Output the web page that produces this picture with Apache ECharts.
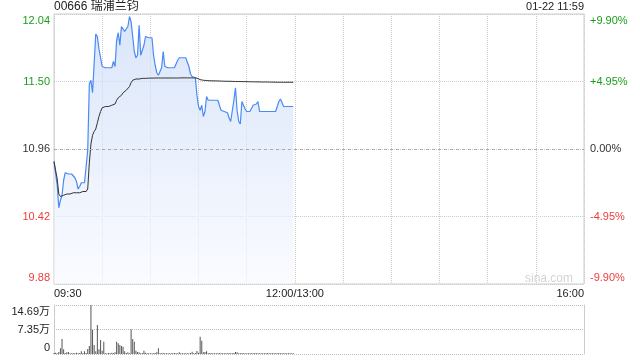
<!DOCTYPE html>
<html>
<head>
<meta charset="utf-8">
<script src="https://cdn.jsdelivr.net/npm/echarts@6/dist/echarts.min.js"></script>
<style>html,body{margin:0;padding:0;background:#fff;}#c{width:640px;height:360px;}</style>
</head>
<body>
<div id="c"></div>
<script>
const stockTitle = '00666 瑞浦兰钧';
const stampText = '01-22 11:59';
const prevClose = 10.96;
const timeTickValues = [0, 150, 330];
const timeLabels = ['09:30', '12:00/13:00', '16:00'];
const priceLabels = ['9.88', '10.42', '10.96', '11.50', '12.04'];
const pctLabels = ['-9.90%', '-4.95%', '0.00%', '+4.95%', '+9.90%'];
const volLabels = ['0', '7.35万', '14.69万'];
const volMax = 146900;

const priceValues = [
10.86,10.85,10.67,10.49,10.55,10.59,10.71,10.77,10.76,10.76,
10.76,10.76,10.76,10.73,10.70,10.64,10.66,10.69,10.69,10.69,
10.69,10.95,11.48,11.51,11.41,11.40,11.88,11.86,11.76,11.69,
11.62,11.61,11.61,11.61,11.61,11.61,11.61,11.66,11.62,11.83,
11.89,11.79,11.94,11.95,11.90,11.89,11.94,12.02,11.98,11.86,
11.74,11.69,11.71,11.95,11.71,11.72,11.79,11.86,11.85,11.85,
11.85,11.85,11.71,11.63,11.57,11.55,11.55,11.61,11.74,11.62,
11.61,11.61,11.61,11.61,11.61,11.61,11.61,11.67,11.69,11.69,
11.69,11.69,11.69,11.69,11.62,11.56,11.54,11.53,11.53,11.39,
11.30,11.27,11.31,11.22,11.26,11.38,11.35,11.35,11.35,11.35,
11.35,11.35,11.35,11.35,11.27,11.26,11.26,11.26,11.25,11.21,
11.18,11.18,11.35,11.45,11.27,11.18,11.16,11.34,11.33,11.28,
11.26,11.26,11.26,11.26,11.31,11.32,11.32,11.34,11.26,11.26,
11.26,11.26,11.26,11.26,11.26,11.26,11.26,11.26,11.26,11.27,
11.34,11.36,11.37,11.30,11.30,11.30,11.30,11.30,11.30,11.30
];
const avgValues = [
10.86,10.85,10.72,10.60,10.58,10.58,10.59,10.59,10.60,10.60,
10.60,10.60,10.61,10.61,10.61,10.61,10.61,10.62,10.62,10.62,
10.62,10.64,10.85,11.00,11.07,11.10,11.12,11.17,11.22,11.26,
11.29,11.30,11.30,11.30,11.30,11.31,11.31,11.31,11.32,11.35,
11.37,11.37,11.39,11.41,11.42,11.43,11.44,11.46,11.49,11.51,
11.515,11.52,11.52,11.52,11.522,11.525,11.525,11.525,11.527,11.527,
11.527,11.527,11.527,11.528,11.528,11.528,11.528,11.528,11.528,11.528,
11.528,11.528,11.528,11.528,11.528,11.528,11.528,11.528,11.529,11.529,
11.529,11.529,11.529,11.529,11.529,11.529,11.529,11.529,11.529,11.527,
11.522,11.515,11.512,11.510,11.509,11.508,11.507,11.506,11.506,11.505,
11.505,11.505,11.504,11.504,11.503,11.503,11.503,11.502,11.502,11.502,
11.501,11.501,11.501,11.500,11.500,11.500,11.500,11.499,11.499,11.499,
11.499,11.498,11.498,11.498,11.498,11.497,11.497,11.497,11.497,11.496,
11.496,11.496,11.496,11.496,11.495,11.495,11.495,11.495,11.495,11.494,
11.494,11.494,11.494,11.494,11.494,11.494,11.494,11.494,11.494,11.494
];
const volumeValues = [
3000,4000,2000,6000,17000,45000,14000,3000,5000,6000,
2500,2500,3000,2500,4000,2500,3000,8000,3000,8000,
3000,15000,24000,146900,72000,27000,8000,87000,14000,42000,
10000,37000,2500,2500,3000,2500,4000,3000,5000,37000,
32000,27000,24000,22000,8000,3000,5000,2500,74000,45000,
37000,10000,6000,5000,2500,3000,10000,4000,2500,2000,
2500,2000,2500,3000,5000,17000,2500,2000,3000,2000,
2500,2000,2500,2000,2500,3000,2000,2500,5000,2000,
2500,2000,2500,2000,2500,3000,7000,2500,3000,9000,
4000,52000,40000,5000,6000,8000,2500,3000,2000,2500,
2000,2500,2000,3000,2500,2000,2500,2000,2500,3000,
2000,2500,3000,6000,5000,2500,2000,3000,2500,2000,
2500,2000,2500,2000,2500,3000,2000,2500,2000,2500,
2000,2500,2000,3000,2000,2500,2000,2500,2000,2500,
3000,2000,2500,2000,2500,2000,2500,2000,2500,2000
];

const FONT = 'Arial, "Liberation Sans", "Noto Sans CJK SC", sans-serif';
const GREEN = '#1a9f1a';
const RED = '#f03c3c';
const DARK = '#333';
const step = 0.54;
function tickIdx(v) { return Math.round(v / step) + 2; }
function lblColor(v) { const k = tickIdx(v); return k > 2 ? GREEN : (k < 2 ? RED : DARK); }
function edge(text, k, n) { if (k === n - 1) return '\n' + text; if (k === 0) return text + '\n'; return text; }

const chart = echarts.init(document.getElementById('c'), null, { renderer: 'canvas' });
chart.setOption({
  animation: false,
  textStyle: { fontFamily: FONT },
  title: [
    { text: stockTitle, left: 54, top: 1, padding: 0, textStyle: { fontSize: 12, fontWeight: 'normal', color: '#222', fontFamily: FONT } },
    { text: stampText, right: 56, top: 1, padding: 0, textStyle: { fontSize: 11, fontWeight: 'normal', color: '#222', fontFamily: FONT } }
  ],
  graphic: [
    { type: 'text', right: 67, top: 273, silent: true, style: { text: 'sina.com', fill: '#d4d4d4', font: '12px ' + FONT } }
  ],
  grid: [
    { left: 54, right: 56, top: 14, height: 270, show: true, borderColor: '#ccc', borderWidth: 1, outerBoundsMode: 'none' },
    { left: 54, right: 56, top: 305, height: 49, outerBoundsMode: 'none' }
  ],
  xAxis: [
    { type: 'value', gridIndex: 0, min: 0, max: 330, interval: 30,
      axisLine: { show: false }, axisTick: { show: false },
      splitLine: { show: true, lineStyle: { type: 'dotted', color: '#ccc' } },
      axisLabel: { show: true, fontSize: 11, color: '#222', margin: 4, fontFamily: FONT,
        alignMinLabel: 'left', alignMaxLabel: 'right', showMinLabel: true, showMaxLabel: true,
        formatter: function (v) { const k = timeTickValues.indexOf(Math.round(v)); return k >= 0 ? timeLabels[k] : ''; } } },
    { type: 'value', gridIndex: 1, min: 0, max: 330, interval: 30,
      axisLine: { show: false }, axisTick: { show: false }, axisLabel: { show: false }, splitLine: { show: false } }
  ],
  yAxis: [
    { type: 'value', gridIndex: 0, min: -1.08, max: 1.08, interval: step,
      axisLine: { show: false }, axisTick: { show: false },
      splitLine: { show: true, lineStyle: { type: 'dotted', color: '#ccc' } },
      axisLabel: { fontSize: 11, margin: 4, lineHeight: 13, fontFamily: FONT, color: lblColor,
        formatter: function (v) { const k = tickIdx(v); return edge(priceLabels[k], k, priceLabels.length); } } },
    { type: 'value', gridIndex: 0, position: 'right', min: -1.08, max: 1.08, interval: step,
      axisLine: { show: false }, axisTick: { show: false }, splitLine: { show: false },
      axisLabel: { fontSize: 11, margin: 6, lineHeight: 13, fontFamily: FONT, color: lblColor,
        formatter: function (v) { const k = tickIdx(v); return edge(pctLabels[k], k, pctLabels.length); } } },
    { type: 'value', gridIndex: 1, min: 0, max: volMax, interval: volMax / 2,
      axisLine: { show: true, lineStyle: { color: '#ccc' } }, axisTick: { show: false },
      splitLine: { show: true, lineStyle: { type: 'dotted', color: '#bbb' } },
      axisLabel: { fontSize: 11, margin: 4, lineHeight: 13, color: '#222', fontFamily: FONT,
        formatter: function (v) { const k = Math.round(v / (volMax / 2)); return edge(volLabels[k], k, volLabels.length); } } },
    { type: 'value', gridIndex: 1, position: 'right', min: 0, max: volMax, interval: volMax / 2,
      axisLine: { show: true, lineStyle: { color: '#ccc' } }, axisTick: { show: false },
      axisLabel: { show: false }, splitLine: { show: false } }
  ],
  series: [
    { type: 'line', xAxisIndex: 0, yAxisIndex: 0, symbol: 'none', silent: true,
      data: priceValues.map(function (p, i) { return [i, +(p - prevClose).toFixed(4)]; }),
      lineStyle: { color: '#4a8af5', width: 1.2 },
      areaStyle: { origin: 'start', color: new echarts.graphic.LinearGradient(0, 0, 0, 1, [
        { offset: 0, color: '#c9daf7' }, { offset: 1, color: '#f7f9fe' }]) },
      markLine: { silent: true, symbol: 'none', label: { show: false },
        lineStyle: { type: [3, 3], color: '#aaa', width: 1 }, data: [{ yAxis: 0 }] } },
    { type: 'line', xAxisIndex: 0, yAxisIndex: 0, symbol: 'none', silent: true,
      data: avgValues.map(function (p, i) { return [i, +(p - prevClose).toFixed(4)]; }),
      lineStyle: { color: '#333', width: 1 } },
    { type: 'bar', xAxisIndex: 1, yAxisIndex: 2, barWidth: 1, silent: true,
      data: volumeValues.map(function (v, i) { return [i, v]; }),
      itemStyle: { color: '#555' } }
  ]
});
</script>
</body>
</html>
